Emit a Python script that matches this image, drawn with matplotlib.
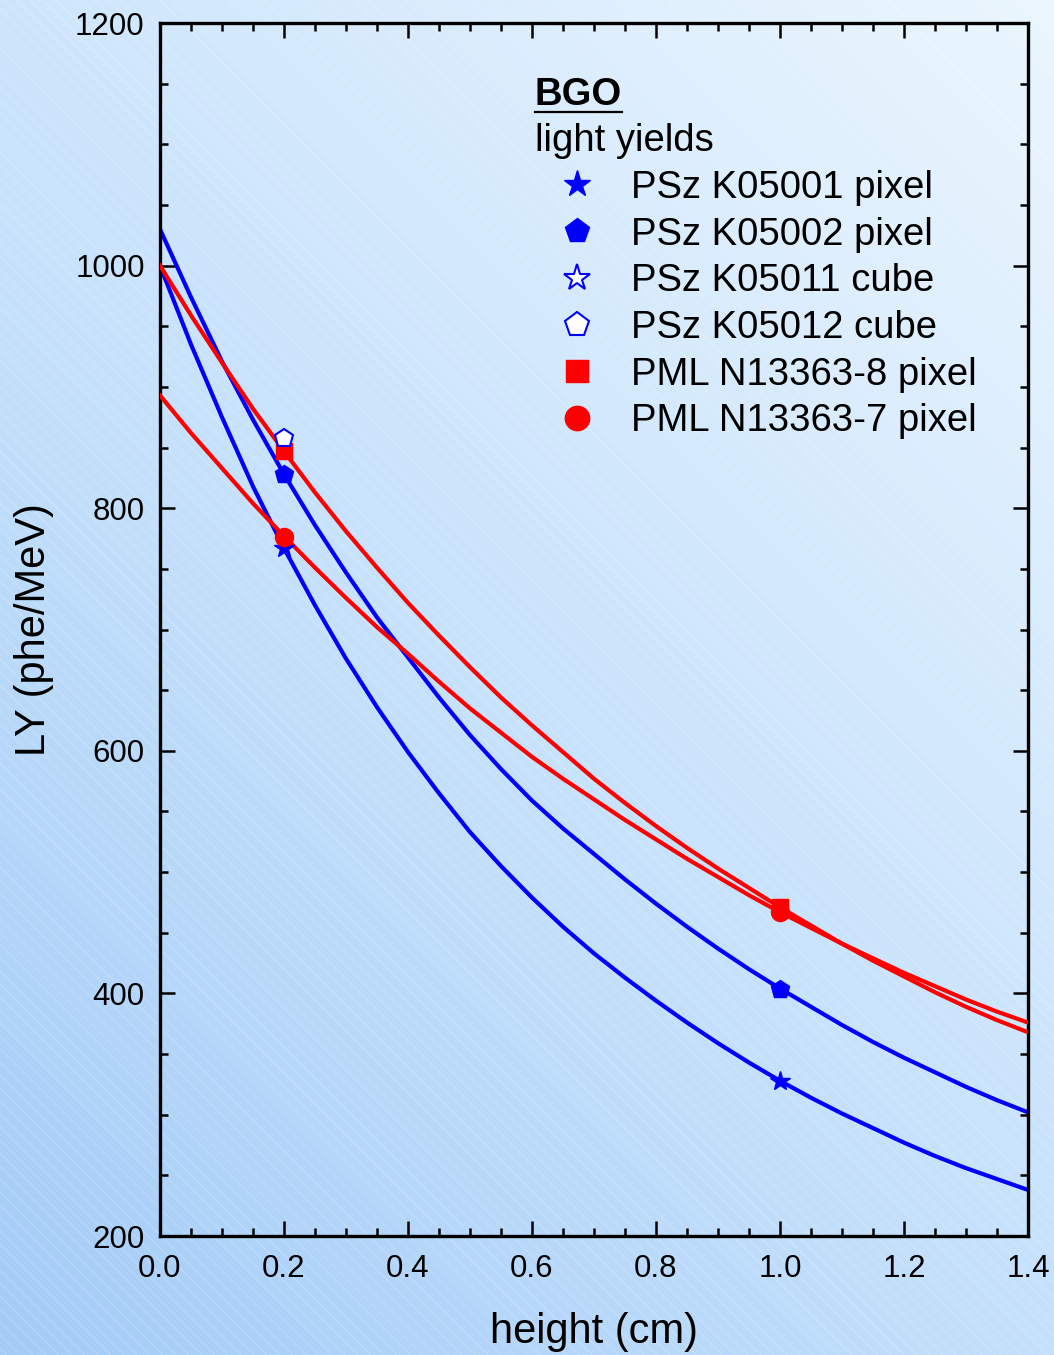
import numpy as np
import matplotlib
matplotlib.use("Agg")
import matplotlib.pyplot as plt
from matplotlib.collections import LineCollection
from matplotlib.colors import LinearSegmentedColormap
from matplotlib.lines import Line2D

plt.rcParams['font.family'] = ['Liberation Sans', 'DejaVu Sans']

# fit curves every 0.05 cm (height in cm, LY in phe/MeV)
x_fit = np.linspace(0.0, 1.4, 29)
fit_k05001 = [1000, 935, 875, 818, 767, 720, 676, 636, 599, 565, 533, 505, 479, 455, 433,
              413, 394, 376, 359, 343, 328, 314, 301, 289, 277, 266, 256, 247, 238]
fit_k05002 = [1030, 974, 921, 873, 828, 786, 747, 710, 677, 644, 613, 585, 559, 536, 515,
              494, 474, 455, 437, 420, 404, 389, 374, 360, 347, 335, 323, 312, 302]
fit_n8 = [1000, 959, 920, 882, 847, 813, 781, 751, 722, 695, 669, 644, 621, 599, 577,
          557, 538, 520, 503, 487, 471, 456, 441, 427, 414, 401, 389, 378, 368]
fit_n7 = [893, 862, 833, 804, 777, 751, 726, 702, 680, 657, 635, 615, 595, 577, 560,
          543, 527, 511, 496, 481, 467, 454, 441, 429, 417, 406, 395, 385, 376]

# measured points
h_k05001 = [0.2, 1.0]
ly_k05001 = [767, 328]
h_k05002 = [0.2, 1.0]
ly_k05002 = [828, 404]
h_k05011 = []
ly_k05011 = []
h_k05012 = [0.2]
ly_k05012 = [858]
h_n8 = [0.2, 1.0]
ly_n8 = [847, 471]
h_n7 = [0.2, 1.0]
ly_n7 = [776, 467]

labels = ["PSz K05001 pixel", "PSz K05002 pixel", "PSz K05011 cube",
          "PSz K05012 cube", "PML N13363-8 pixel", "PML N13363-7 pixel"]

BLUE = "#0000ff"
RED = "#ff0000"

fig = plt.figure(figsize=(10.54, 13.55), dpi=100)

# background: diagonal gradient with faint stripes
bg = fig.add_axes([0, 0, 1, 1], zorder=0)
yy, xx = np.mgrid[0:1:300j, 0:1:300j]
g = (xx * 1054 + yy * 1355) / (1054 + 1355)
cmap = LinearSegmentedColormap.from_list("bg", ["#a4ccf7", "#c9e3fc", "#ebf6fe"])
bg.imshow(g, cmap=cmap, origin="lower", extent=[0, 1054, 0, 1355],
          aspect="auto", interpolation="bilinear")
segs = [[(c, 1355), (c + 1355, 0)] for c in np.arange(-1400, 1100, 13)]
bg.add_collection(LineCollection(segs, colors="white", linewidths=0.6, alpha=0.25))
bg.set_xlim(0, 1054)
bg.set_ylim(0, 1355)
bg.axis("off")

ax = fig.add_axes([0.1518, 0.0878, 0.8235, 0.8952], zorder=1)
ax.patch.set_visible(False)

# fit lines
ax.plot(x_fit, fit_k05001, color=BLUE, lw=3, zorder=2)
ax.plot(x_fit, fit_k05002, color=BLUE, lw=3, zorder=2)
ax.plot(x_fit, fit_n7, color=RED, lw=3, zorder=3)
ax.plot(x_fit, fit_n8, color=RED, lw=3, zorder=3)

# data points
p1, = ax.plot(h_k05001, ly_k05001, ls="none", marker="*", ms=15, color=BLUE, zorder=4)
p2, = ax.plot(h_k05002, ly_k05002, ls="none", marker="p", ms=13.5, color=BLUE, zorder=4)
p3, = ax.plot(h_k05011, ly_k05011, ls="none", marker="*", ms=15, mfc="white",
              mec=BLUE, mew=1.5, zorder=5)
p5, = ax.plot(h_n8, ly_n8, ls="none", marker="s", ms=11.5, color=RED, zorder=4)
p6, = ax.plot(h_n7, ly_n7, ls="none", marker="o", ms=13, color=RED, zorder=4)
p4, = ax.plot(h_k05012, ly_k05012, ls="none", marker="p", ms=13.5, mfc="white",
              mec=BLUE, mew=1.5, zorder=5)

ax.set_xlim(0, 1.4)
ax.set_ylim(200, 1200)
ax.set_xticks(np.arange(0, 1.41, 0.2))
ax.set_xticks(np.arange(0, 1.41, 0.05), minor=True)
ax.set_yticks(np.arange(200, 1201, 200))
ax.set_yticks(np.arange(200, 1201, 50), minor=True)
ax.xaxis.set_major_formatter(matplotlib.ticker.FormatStrFormatter("%.1f"))

for s in ax.spines.values():
    s.set_linewidth(2.4)
ax.tick_params(which="both", direction="in", top=True, right=True, width=1.8,
               labelsize=22.5)
ax.tick_params(which="major", length=11)
ax.tick_params(which="minor", length=5.5)
ax.tick_params(axis="x", pad=13)
ax.tick_params(axis="y", pad=11)

ax.set_xlabel("height (cm)", fontsize=30, labelpad=20)
ax.set_ylabel("LY (phe/MeV)", fontsize=30, labelpad=15)

# legend block
t_bgo = ax.text(0.432, 0.9324, "BGO", transform=ax.transAxes, fontsize=27.5,
                fontweight="bold", va="baseline", ha="left")
ax.text(0.432, 0.8947, "light yields", transform=ax.transAxes, fontsize=27.5,
        va="baseline", ha="left")
ax.legend([p1, p2, p3, p4, p5, p6], labels, loc="upper left",
          bbox_to_anchor=(0.4585, 0.879), frameon=False, fontsize=27.5,
          markerscale=1.35, handlelength=1.0, handletextpad=0.9,
          labelspacing=0.28, borderpad=0, borderaxespad=0)

# underline under BGO
fig.canvas.draw()
bb = t_bgo.get_window_extent().transformed(fig.transFigure.inverted())
fig.add_artist(Line2D([bb.x0, bb.x1], [bb.y0 + 0.0005, bb.y0 + 0.0005],
                      transform=fig.transFigure, color="black", lw=1.6))

fig.savefig("out.png", dpi=100)
